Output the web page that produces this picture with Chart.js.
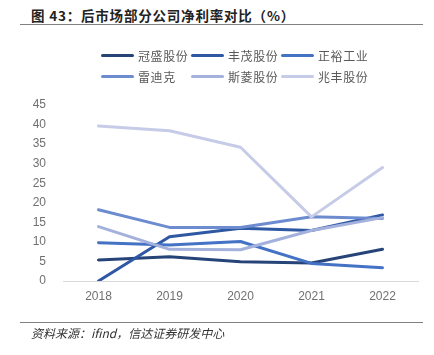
<!DOCTYPE html>
<html>
<head>
<meta charset="utf-8">
<script src="https://cdn.jsdelivr.net/npm/chart.js@4/dist/chart.umd.min.js"></script>
<style>
  html, body { margin: 0; padding: 0; background: #fff; }
  #wrap { position: relative; width: 434px; height: 355px; overflow: hidden; }
  #c { position: absolute; left: 0; top: 0; }
  .title { position: absolute; left: 31px; top: 5px; font-family: "Noto Sans CJK SC", sans-serif; font-weight: bold; font-size: 13.5px; color: #222; letter-spacing: 0.8px; white-space: nowrap; }
  .rule { position: absolute; left: 20px; width: 403px; height: 0; border-top: 1.5px solid #808080; }
  .src { position: absolute; left: 31px; top: 324px; font-family: "Noto Sans CJK SC", sans-serif; font-style: italic; font-size: 12px; color: #333; letter-spacing: 0px; white-space: nowrap; }
  .leg { position: absolute; font-family: "Noto Sans CJK SC", sans-serif; font-size: 12px; color: #595959; letter-spacing: 0.6px; white-space: nowrap; height: 16px; line-height: 16px; }
  .leg i { position: absolute; left: 0; top: 6px; width: 33px; height: 3px; border-radius: 2px; }
  .leg span { position: absolute; left: 37px; top: 0; }
</style>
</head>
<body>
<div id="wrap">
  <div class="title">图 43：后市场部分公司净利率对比（%）</div>
  <div class="rule" style="top:24px"></div>
  <canvas id="c" width="434" height="355"></canvas>
  <div id="legend"></div>
  <div class="rule" style="top:322px"></div>
  <div class="src">资料来源：ifind，信达证券研发中心</div>
</div>
<script>
const years = ['2018', '2019', '2020', '2021', '2022'];
const seriesNames = ['冠盛股份', '丰茂股份', '正裕工业', '雷迪克', '斯菱股份', '兆丰股份'];
const seriesColors = ['#264478', '#2f58a4', '#4472c4', '#6d8ccf', '#a3b1dc', '#c6cce8'];
const guansheng = [5.4, 6.2, 4.9, 4.6, 8.1];
const fengmao = [0.0, 11.3, 13.5, 12.9, 16.9];
const zhengyu = [9.8, 9.2, 10.1, 4.5, 3.4];
const leidike = [18.2, 13.7, 13.7, 16.4, 16.0];
const siling = [13.9, 8.1, 8.0, 12.9, 16.2];
const zhaofeng = [39.6, 38.4, 34.2, 16.4, 29.0];
const seriesValues = [guansheng, fengmao, zhengyu, leidike, siling, zhaofeng];
const yTicks = [0, 5, 10, 15, 20, 25, 30, 35, 40, 45];

// legend (3 columns x 2 rows)
const legendEl = document.getElementById('legend');
seriesNames.forEach((name, i) => {
  const d = document.createElement('div');
  d.className = 'leg';
  d.style.left = (101 + (i % 3) * 90) + 'px';
  d.style.top = (48 + Math.floor(i / 3) * 21) + 'px';
  d.innerHTML = '<i style="background:' + seriesColors[i] + '"></i><span>' + name + '</span>';
  legendEl.appendChild(d);
});

const datasets = seriesNames.map((name, i) => ({
  label: name,
  data: seriesValues[i],
  borderColor: seriesColors[i],
  backgroundColor: seriesColors[i],
  borderWidth: 3,
  pointRadius: 0,
  tension: 0,
  fill: false,
  borderJoinStyle: 'round',
  borderCapStyle: 'round',
  order: seriesNames.length - i
}));

new Chart(document.getElementById('c'), {
  type: 'line',
  data: { labels: years, datasets },
  options: {
    responsive: false,
    animation: false,
    devicePixelRatio: 1,
    layout: { padding: { left: 0, right: 16, top: 105, bottom: 44 } },
    plugins: { legend: { display: false }, title: { display: false }, tooltip: { enabled: false } },
    scales: {
      x: {
        offset: true,
        grid: { display: false, drawTicks: false },
        border: { display: true, color: '#d9d9d9', width: 1 },
        ticks: { color: '#707070', font: { family: 'Liberation Sans', size: 12 }, padding: 8, maxRotation: 0 },
        afterFit: s => { s.height = 30; }
      },
      y: {
        min: 0, max: 45,
        afterBuildTicks: s => { s.ticks = yTicks.map(v => ({ value: v })); },
        grid: { display: false, drawTicks: false },
        border: { display: false },
        ticks: { color: '#707070', font: { family: 'Liberation Sans', size: 12 }, padding: 17 },
        afterFit: s => { s.width = 63; }
      }
    }
  }
});
</script>
</body>
</html>
